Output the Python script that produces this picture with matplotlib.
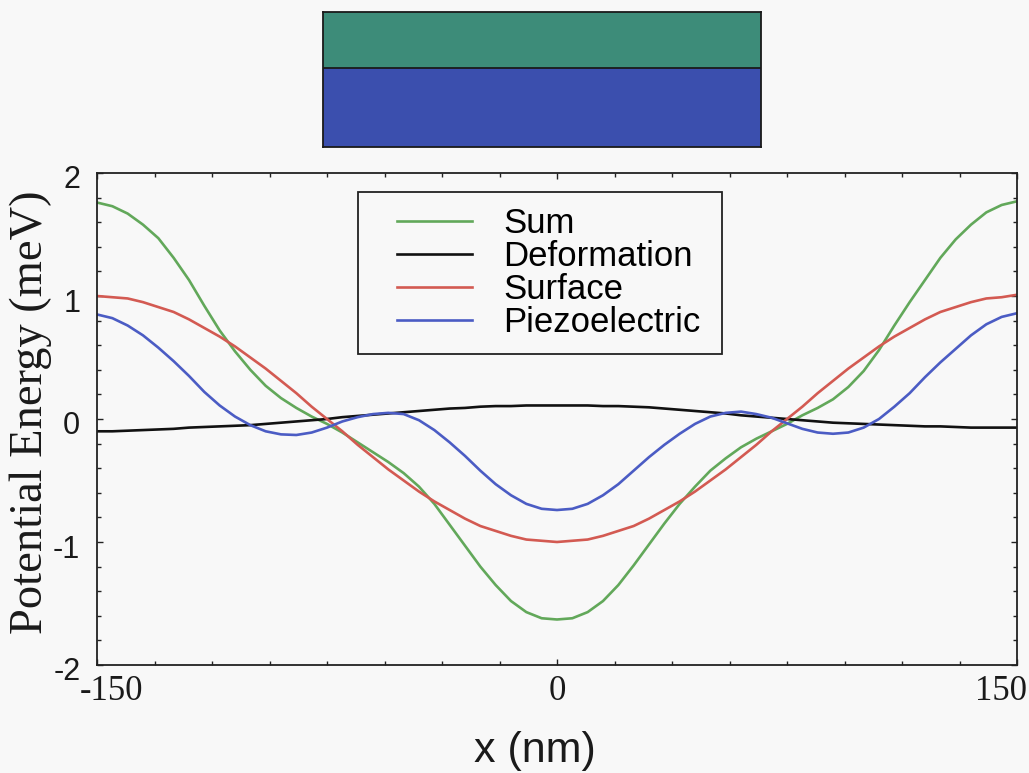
import numpy as np
import matplotlib
matplotlib.use("Agg")
import matplotlib.pyplot as plt
from matplotlib.ticker import MultipleLocator, FixedLocator
from matplotlib.patches import Rectangle
from matplotlib.lines import Line2D
import matplotlib.transforms as mtransforms

# ---------------- data ----------------
x_nm = np.arange(-150, 151, 5)

deformation = [-0.10, -0.10, -0.095, -0.09, -0.085, -0.08, -0.07, -0.065, -0.06, -0.055,
               -0.05, -0.04, -0.03, -0.02, -0.01, 0.0, 0.015, 0.025, 0.035, 0.045,
               0.055, 0.065, 0.075, 0.085, 0.09, 0.10, 0.105, 0.105, 0.11, 0.11, 0.11,
               0.11, 0.11, 0.105, 0.105, 0.10, 0.095, 0.085, 0.075, 0.065, 0.055,
               0.045, 0.03, 0.02, 0.01, 0.0, -0.01, -0.02, -0.03, -0.035, -0.04,
               -0.045, -0.05, -0.055, -0.06, -0.06, -0.065, -0.07, -0.07, -0.07, -0.07]

surface = [1.00, 0.99, 0.98, 0.95, 0.91, 0.87, 0.81, 0.74, 0.67, 0.59,
           0.50, 0.41, 0.31, 0.21, 0.10, 0.00, -0.10, -0.21, -0.31, -0.41,
           -0.50, -0.59, -0.67, -0.74, -0.81, -0.87, -0.91, -0.95, -0.98, -0.99, -1.00,
           -0.99, -0.98, -0.95, -0.91, -0.87, -0.81, -0.74, -0.67, -0.59, -0.50,
           -0.41, -0.31, -0.21, -0.10, 0.00, 0.10, 0.21, 0.31, 0.41, 0.50,
           0.59, 0.67, 0.74, 0.81, 0.87, 0.91, 0.95, 0.98, 0.99, 1.01]

piezoelectric = [0.85, 0.82, 0.76, 0.68, 0.58, 0.47, 0.35, 0.22, 0.11, 0.02,
                 -0.05, -0.10, -0.125, -0.13, -0.11, -0.07, -0.02, 0.015, 0.04, 0.05,
                 0.04, -0.01, -0.09, -0.19, -0.30, -0.42, -0.53, -0.62, -0.69, -0.73, -0.74,
                 -0.73, -0.69, -0.62, -0.53, -0.42, -0.31, -0.21, -0.12, -0.04, 0.02,
                 0.05, 0.06, 0.04, 0.01, -0.035, -0.08, -0.11, -0.12, -0.11, -0.07,
                 0.00, 0.10, 0.21, 0.34, 0.46, 0.57, 0.68, 0.77, 0.83, 0.86]

total = [1.76, 1.73, 1.67, 1.58, 1.47, 1.31, 1.13, 0.92, 0.72, 0.55,
         0.40, 0.27, 0.17, 0.09, 0.02, -0.04, -0.11, -0.19, -0.27, -0.35,
         -0.44, -0.55, -0.69, -0.86, -1.03, -1.20, -1.35, -1.48, -1.57, -1.62, -1.63,
         -1.62, -1.57, -1.48, -1.35, -1.19, -1.02, -0.85, -0.69, -0.55, -0.42,
         -0.32, -0.23, -0.16, -0.10, -0.04, 0.03, 0.09, 0.16, 0.26, 0.39,
         0.56, 0.76, 0.95, 1.13, 1.31, 1.46, 1.58, 1.68, 1.74, 1.77]

series_names = ["Sum", "Deformation", "Surface", "Piezoelectric"]
series_vals = [total, deformation, surface, piezoelectric]
series_colors = ["#62a85a", "#111111", "#d35a52", "#4b5cc4"]

x_ticks = [-150, 0, 150]
x_ticklabels = ["-150", "0", "150"]
y_ticks = [-2, -1, 0, 1, 2]
y_ticklabels = ["-2", "-1", "0", "1", "2"]

# ---------------- figure ----------------
W, H = 1029, 773
BG = "#f8f8f8"
fig = plt.figure(figsize=(W / 100, H / 100), dpi=100, facecolor=BG)

def fx(px):
    return px / W

def fy(py):
    return 1 - py / H

ax = fig.add_axes([fx(97), fy(665), fx(1017) - fx(97), fy(173) - fy(665)])
ax.set_facecolor(BG)

for name, vals, col in zip(series_names, series_vals, series_colors):
    ax.plot(x_nm, vals, color=col, lw=1.9, label=name,
            solid_capstyle="round", solid_joinstyle="round")

ax.set_xlim(-150, 150)
ax.set_ylim(-2, 2)
ax.xaxis.set_major_locator(FixedLocator(x_ticks))
ax.xaxis.set_minor_locator(MultipleLocator(18.75))
ax.yaxis.set_major_locator(FixedLocator(y_ticks))
ax.yaxis.set_minor_locator(MultipleLocator(0.2))
ax.set_xticklabels(x_ticklabels, family="Liberation Serif", fontsize=25, color="#1a1a1a")
ax.set_yticklabels(y_ticklabels, family="Liberation Sans", fontsize=22, color="#1a1a1a")
ax.tick_params(which="both", direction="in", top=True, right=True, color="#222222")
ax.tick_params(which="major", length=4, width=1.0)
ax.tick_params(which="minor", length=3, width=1.0)
ax.tick_params(axis="x", pad=7)
ax.tick_params(axis="y", pad=12)
for sp in ax.spines.values():
    sp.set_color("#222222")
    sp.set_linewidth(1.3)

# shift edge x tick labels inward like the reference, y labels slightly down
labs = ax.get_xticklabels()
labs[0].set_transform(labs[0].get_transform() + mtransforms.ScaledTranslation(15 / 100, 0, fig.dpi_scale_trans))
labs[-1].set_transform(labs[-1].get_transform() + mtransforms.ScaledTranslation(-16 / 100, 0, fig.dpi_scale_trans))
for lab in ax.get_yticklabels():
    lab.set_transform(lab.get_transform() + mtransforms.ScaledTranslation(0, -4 / 100, fig.dpi_scale_trans))

ax.set_ylabel("Potential Energy (meV)", family="Liberation Serif", fontsize=33.5, color="#1a1a1a")
ax.yaxis.set_label_coords((52 - 97) / 920, (665 - 412) / 492)
ax.set_xlabel("x (nm)", family="Liberation Sans", fontsize=31, color="#1a1a1a")
ax.xaxis.set_label_coords((535 - 97) / 920, (665 - 731) / 492)

# legend (frame drawn separately)
handles = [Line2D([], [], color=c, lw=1.9) for c in series_colors]
leg = fig.legend(handles, series_names, loc="upper left",
                 bbox_to_anchor=(fx(397), fy(207)), bbox_transform=fig.transFigure,
                 frameon=False, borderpad=0, borderaxespad=0,
                 prop={"family": "Liberation Sans", "size": 25},
                 handlelength=2.15, handletextpad=0.9, labelspacing=0.0)
fig.add_artist(Rectangle((fx(358), fy(354)), fx(722) - fx(358), fy(192) - fy(354),
                         transform=fig.transFigure, fill=False, edgecolor="#222222", lw=1.3))

# layered structure sketch above the plot
ax2 = fig.add_axes([fx(323), fy(147), fx(761) - fx(323), fy(12) - fy(147)])
ax2.set_xlim(0, 1)
ax2.set_ylim(0, 1)
split = (147 - 68) / (147 - 12)
ax2.axhspan(0, split, color="#3b4fae", lw=0)
ax2.axhspan(split, 1, color="#3d8c79", lw=0)
ax2.axhline(split, color="#1a1a1a", lw=1.3)
ax2.set_xticks([])
ax2.set_yticks([])
for sp in ax2.spines.values():
    sp.set_color("#1a1a1a")
    sp.set_linewidth(1.3)

fig.savefig("out.png", dpi=100, facecolor=BG)
